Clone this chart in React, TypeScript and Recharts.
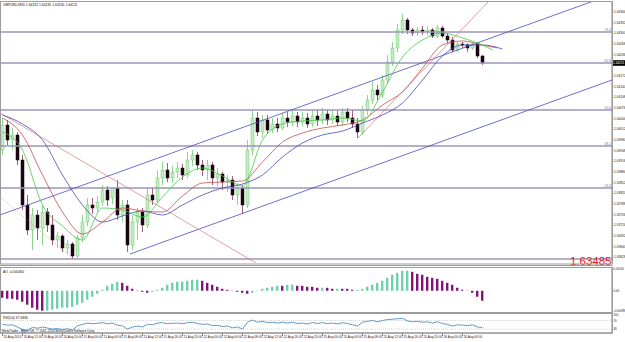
import {
  ComposedChart,
  Bar,
  Line,
  XAxis,
  YAxis,
  ReferenceLine,
  Cell,
} from "recharts";

const titleText = "GBPUSD,M30  1.64232 1.64235 1.64205 1.64211";
const aoTitle = "AO -0.000460";
const rsiTitle = "RSI(14) 37.4836";
const copyright = "MetaTrader - Alpari UK, © 2001-2014 MetaQuotes Software Corp.";
const markText = "1.63485";

const opens = [
  1.6395, 1.64025, 1.6398, 1.63995, 1.6392, 1.63785, 1.6371, 1.63755, 1.63716, 1.63764,
  1.63725, 1.6368, 1.63692, 1.63656, 1.63668, 1.63632, 1.63686, 1.63734, 1.63785, 1.63776,
  1.63794, 1.6383, 1.63806, 1.63836, 1.63755, 1.63785, 1.63665, 1.63734, 1.63764, 1.63725,
  1.63815, 1.638, 1.63866, 1.6389, 1.63866, 1.63884, 1.63896, 1.63875, 1.6392, 1.63935,
  1.63905, 1.6389, 1.63905, 1.63866, 1.63878, 1.63854, 1.6386, 1.63815, 1.63836, 1.63785,
  1.6395, 1.64046, 1.64004, 1.6404, 1.6401, 1.64028, 1.64016, 1.64046, 1.64034, 1.64052,
  1.64034, 1.64046, 1.64028, 1.64052, 1.6404, 1.64058, 1.6404, 1.64052, 1.64034, 1.64064,
  1.64046, 1.64028, 1.64004, 1.6407, 1.641, 1.6413, 1.64115, 1.6416, 1.64214, 1.64256,
  1.6431, 1.6434, 1.6431, 1.64301, 1.6431, 1.64304, 1.6431, 1.64292, 1.64316, 1.64292,
  1.6428, 1.6425, 1.64268, 1.64265, 1.64256, 1.64268, 1.64232,
];
const highs = [
  1.64046, 1.6404, 1.64016, 1.64004, 1.63935, 1.63815, 1.63776, 1.6377, 1.63785, 1.63776,
  1.63755, 1.63704, 1.63698, 1.6368, 1.63674, 1.63695, 1.63755, 1.63806, 1.63806, 1.63812,
  1.63845, 1.63842, 1.63824, 1.6386, 1.638, 1.638, 1.63755, 1.63776, 1.63776, 1.63836,
  1.63836, 1.6389, 1.63914, 1.63911, 1.63902, 1.63914, 1.63908, 1.63944, 1.6395, 1.63944,
  1.6392, 1.6392, 1.63914, 1.63896, 1.63884, 1.63875, 1.63872, 1.63851, 1.63845, 1.6398,
  1.6407, 1.64064, 1.64055, 1.64055, 1.64046, 1.64046, 1.64061, 1.64064, 1.6407, 1.64064,
  1.64064, 1.64061, 1.6407, 1.6407, 1.64076, 1.6407, 1.6407, 1.64067, 1.64076, 1.64076,
  1.6407, 1.64046, 1.64082, 1.64115, 1.64154, 1.64145, 1.64175, 1.64235, 1.64274, 1.64328,
  1.64358, 1.64346, 1.64316, 1.64319, 1.64322, 1.64322, 1.64316, 1.64325, 1.64322, 1.64301,
  1.64289, 1.64274, 1.64274, 1.64271, 1.64274, 1.64274, 1.64235,
];
const lows = [
  1.63935, 1.63965, 1.6395, 1.63905, 1.6377, 1.63695, 1.6365, 1.6368, 1.63665, 1.63704,
  1.63665, 1.63656, 1.63644, 1.63638, 1.63623, 1.63626, 1.63674, 1.63722, 1.63758, 1.63764,
  1.63782, 1.63782, 1.63788, 1.6374, 1.63734, 1.63644, 1.6365, 1.6368, 1.63704, 1.63716,
  1.63785, 1.63791, 1.63845, 1.63854, 1.63851, 1.63866, 1.6386, 1.63866, 1.63902, 1.6389,
  1.63872, 1.6386, 1.63845, 1.63842, 1.6383, 1.63824, 1.638, 1.63785, 1.63758, 1.63776,
  1.63935, 1.63992, 1.63986, 1.63998, 1.64001, 1.64004, 1.6401, 1.64019, 1.64022, 1.64019,
  1.64022, 1.64016, 1.64019, 1.64022, 1.64028, 1.64025, 1.64028, 1.64022, 1.64022, 1.64034,
  1.64016, 1.63986, 1.63995, 1.64055, 1.64088, 1.641, 1.64106, 1.64148, 1.64202, 1.64244,
  1.64298, 1.64298, 1.64292, 1.64292, 1.64295, 1.64295, 1.64286, 1.64286, 1.64286, 1.64271,
  1.64244, 1.64244, 1.64256, 1.64244, 1.6425, 1.64226, 1.64205,
];
const closes = [
  1.64025, 1.6398, 1.63995, 1.6392, 1.63785, 1.6371, 1.63755, 1.63716, 1.63764, 1.63725,
  1.6368, 1.63692, 1.63656, 1.63668, 1.63632, 1.63686, 1.63734, 1.63785, 1.63776, 1.63794,
  1.6383, 1.638, 1.63836, 1.63755, 1.63785, 1.63665, 1.63734, 1.63764, 1.63725, 1.63815,
  1.638, 1.63866, 1.6389, 1.63866, 1.63884, 1.63896, 1.63875, 1.6392, 1.63935, 1.63905,
  1.6389, 1.63905, 1.63866, 1.63878, 1.63854, 1.6386, 1.63815, 1.63836, 1.63785, 1.6395,
  1.64046, 1.64004, 1.6404, 1.6401, 1.64028, 1.64016, 1.64046, 1.64034, 1.64052, 1.64034,
  1.64046, 1.64028, 1.64052, 1.6404, 1.64058, 1.6404, 1.64052, 1.64034, 1.64064, 1.64046,
  1.64028, 1.64004, 1.6407, 1.641, 1.6413, 1.64115, 1.6416, 1.64214, 1.64256, 1.6431,
  1.6434, 1.6431, 1.64301, 1.6431, 1.64304, 1.6431, 1.64292, 1.64316, 1.64292, 1.6428,
  1.6425, 1.64268, 1.64265, 1.64256, 1.64268, 1.64232, 1.64211,
];

// alligator lines: [bar index, value]
const lipsPts: [number, number][] = [
  [0, 1.64004], [4, 1.6395], [8, 1.63785], [12, 1.63722], [16, 1.6368], [20, 1.63776],
  [24, 1.6377], [28, 1.63749], [32, 1.63809], [36, 1.63869], [40, 1.63896], [44, 1.63872],
  [48, 1.63842], [52, 1.6398], [56, 1.64028], [60, 1.64037], [64, 1.6404], [68, 1.64046],
  [72, 1.64037], [76, 1.64124], [80, 1.64229], [84, 1.6428], [88, 1.64301], [92, 1.64286],
  [96, 1.64265], [98, 1.6425],
];
const teethPts: [number, number][] = [
  [0, 1.64046], [4, 1.63995], [8, 1.63875], [12, 1.63764], [16, 1.63698], [20, 1.63734],
  [24, 1.63776], [28, 1.63767], [32, 1.63764], [36, 1.63812], [40, 1.63851], [44, 1.63854],
  [48, 1.63857], [52, 1.63914], [56, 1.63974], [60, 1.64001], [64, 1.64016], [68, 1.64025],
  [72, 1.6404], [76, 1.64085], [80, 1.64124], [84, 1.64196], [88, 1.64265], [92, 1.64277],
  [96, 1.64265], [99, 1.64256],
];
const jawPts: [number, number][] = [
  [0, 1.64055], [4, 1.64028], [8, 1.6398], [12, 1.63875], [16, 1.63785], [20, 1.63734],
  [24, 1.63752], [28, 1.63767], [32, 1.63755], [36, 1.63785], [40, 1.63815], [44, 1.63836],
  [48, 1.63848], [52, 1.63875], [56, 1.63929], [60, 1.63971], [64, 1.63995], [68, 1.64007],
  [72, 1.64031], [76, 1.64055], [80, 1.64091], [84, 1.6416], [88, 1.64232], [92, 1.64265],
  [96, 1.64265], [100, 1.64253],
];

const aoValues = [
  -0.000322, -0.000368, -0.000371, -0.000414, -0.000506, -0.000644, -0.000782, -0.000874, -0.00092, -0.000915,
  -0.000874, -0.000828, -0.000782, -0.000779, -0.000736, -0.000644, -0.000552, -0.000414, -0.000276, -0.000138,
  0.000046, 0.00023, 0.000322, 0.000414, 0.000368, 0.00023, 0.000092, 0.00001, -0.000046, -0.000092,
  -0.000046, 0.000046, 0.000138, 0.000276, 0.000368, 0.000414, 0.000418, 0.00046, 0.000506, 0.00051,
  0.00046, 0.000368, 0.000276, 0.000184, 0.000092, 0.000046, 0.00001, -0.000046, -0.000092, -0.000138,
  -0.000092, 0.000012, 0.000092, 0.000138, 0.000184, 0.00023, 0.000228, 0.000276, 0.00028, 0.00023,
  0.000226, 0.000184, 0.00018, 0.000138, 0.00014, 0.000136, 0.000092, 0.000095, 0.00009, 0.000088,
  0.000046, 0.000048, 0.000092, 0.000184, 0.000276, 0.000368, 0.00046, 0.000598, 0.000736, 0.000828,
  0.00092, 0.000925, 0.000874, 0.000782, 0.000736, 0.000644, 0.000598, 0.000552, 0.00046, 0.000368,
  0.000276, 0.000138, 0.000046, 0.00001, -0.000092, -0.000276, -0.00046,
];

const rsiValues = [
  52, 48, 50, 40, 28, 25, 38, 34, 40, 35, 30, 33, 28, 32, 26, 45, 52, 58, 55, 57,
  60, 55, 58, 48, 45, 30, 40, 44, 40, 52, 50, 58, 60, 55, 57, 58, 55, 60, 62, 56,
  52, 54, 46, 48, 42, 44, 36, 40, 30, 62, 72, 62, 66, 60, 62, 58, 62, 58, 62, 56,
  58, 54, 60, 56, 60, 55, 58, 54, 60, 56, 50, 44, 62, 66, 70, 64, 70, 74, 76, 78,
  80, 68, 64, 66, 62, 64, 58, 64, 56, 52, 44, 50, 48, 46, 50, 40, 37.4836,
];

// 1.64204 sits behind the current-price tag, as in the terminal
const priceTicks = [
  1.64364, 1.64332, 1.643, 1.64268, 1.64236, 1.64172, 1.6414, 1.64108, 1.64076,
  1.64044, 1.64012, 1.6398, 1.63948, 1.63916, 1.63884, 1.63852, 1.6382, 1.63788, 1.63756,
  1.63724, 1.63692, 1.6366, 1.63628,
];

const fibValues = [1.64304, 1.64211, 1.6407, 1.63962, 1.63836];
const fibNames = ["76.4", "61.8", "50.0", "38.2", "23.6"];
const baseLevel = 1.63623;

const timeLabels = [
  "20 Aug 2014", "20 Aug 12:00", "20 Aug 16:00", "20 Aug 20:00", "21 Aug 00:00", "21 Aug 04:00",
  "21 Aug 08:00", "21 Aug 12:00", "21 Aug 16:00", "21 Aug 20:00", "22 Aug 00:00", "22 Aug 04:00",
  "22 Aug 08:00", "22 Aug 12:00", "22 Aug 16:00", "22 Aug 20:00", "25 Aug 00:00", "25 Aug 04:00",
  "25 Aug 08:00", "25 Aug 12:00", "25 Aug 16:00", "25 Aug 20:00", "26 Aug 00:00", "26 Aug 04:00",
];

const aoTicks = [0.00105, 0, -0.00098];
const rsiTicks = [100, 70, 30];

// trend lines drawn on the chart, in bar index / price
const channelUpper = [{ x: -0.5, y: 1.63755 }, { x: 121.9, y: 1.64417 }];
const channelLower = [{ x: 25.5, y: 1.63638 }, { x: 121.9, y: 1.6416 }];
const redDown = [{ x: -0.5, y: 1.64061 }, { x: 50.7, y: 1.63611 }];
const redDotted = [{ x: -0.5, y: 1.63809 }, { x: 14, y: 1.63626 }];
const redUp = [{ x: 71.1, y: 1.63986 }, { x: 97.5, y: 1.644 }];

const rows: any[] = Array.from({ length: 101 }, (_, i) => {
  const r: any = { i };
  if (i < opens.length) {
    r.o = opens[i];
    r.h = highs[i];
    r.l = lows[i];
    r.c = closes[i];
    r.range = [lows[i], highs[i]];
    r.ao = aoValues[i];
    r.rsi = rsiValues[i];
  }
  return r;
});
lipsPts.forEach(([i, v]) => (rows[i].lips = v));
teethPts.forEach(([i, v]) => (rows[i].teeth = v));
jawPts.forEach(([i, v]) => (rows[i].jaw = v));

const X_DOMAIN: [number, number] = [-0.5, 121.9];
const FONT = 3.2;
const FRAME = "#9c9c9c";

function Candle(props: any) {
  const { x, y, width, height, payload } = props;
  if (payload == null || payload.o == null) return null;
  const { o, h, l, c } = payload;
  const top0 = Math.min(y, y + height);
  const hh = Math.abs(height);
  const span = h - l || 1e-9;
  const toY = (v: number) => top0 + ((h - v) / span) * hh;
  const up = c >= o;
  const bt = toY(Math.max(o, c));
  const bb = toY(Math.min(o, c));
  const cx = x + width / 2;
  return (
    <g>
      <line
        x1={cx}
        x2={cx}
        y1={top0}
        y2={top0 + hh}
        stroke={up ? "#74c874" : "#8a3a5c"}
        strokeWidth={0.8}
      />
      <rect
        x={x}
        y={bt}
        width={width}
        height={Math.max(bb - bt, 0.8)}
        fill={up ? "#c2ecc2" : "#1a0610"}
        stroke={up ? "#74c874" : "#1a0610"}
        strokeWidth={0.5}
      />
    </g>
  );
}

function PriceTag(props: any) {
  const { x, y, width } = props.viewBox;
  return (
    <g>
      <rect x={x + width + 0.5} y={y - 2.8} width={12.5} height={5.6} fill="#000" />
      <text x={x + width + 1} y={y + 1.2} fontSize={FONT} fill="#fff">
        {closes[closes.length - 1].toFixed(5)}
      </text>
    </g>
  );
}

function MarkText(props: any) {
  const { x, y, width } = props.viewBox;
  return (
    <text
      x={x + width - 0.5}
      y={y + 5.5}
      fontSize={11.5}
      fill="#e3171f"
      textAnchor="end"
    >
      {markText}
    </text>
  );
}

function TimeTick(props: any) {
  const { x, y, payload } = props;
  const label = timeLabels[Math.round(payload.value / 4)];
  return (
    <text x={x + 1} y={y} dy={2.4} fontSize={FONT} fill="#222" textAnchor="start">
      {label}
    </text>
  );
}

// keeps the edge labels of the small panels inside their own panel
function PanelTick(props: any) {
  const { x, y, payload, index, visibleTicksCount, fmt } = props;
  let dy = 1.1;
  if (index === 0) dy = 2.4;
  if (index === visibleTicksCount - 1 && payload.value < 0) dy = -0.2;
  return (
    <text x={x} y={y} dy={dy} fontSize={2.9} fill="#222" textAnchor="start">
      {fmt(payload.value)}
    </text>
  );
}

const aoFmt = (v: number) => (v === 0 ? "0.00" : v.toFixed(5));
const rsiFmt = (v: number) => String(v);

export default function App() {
  return (
    <div
      style={{
        position: "absolute",
        left: 0,
        top: 0,
        width: 625,
        height: 342,
        background: "#fff",
        fontFamily: "'Liberation Sans', Arial, sans-serif",
        overflow: "hidden",
      }}
    >
      <div style={{ position: "absolute", left: 0, top: 0 }}>
        <ComposedChart
          width={625}
          height={266}
          data={rows}
          margin={{ top: 2, right: 0, bottom: 3, left: 0 }}
        >
          <XAxis type="number" dataKey="i" domain={X_DOMAIN} hide allowDataOverflow />
          <YAxis
            orientation="right"
            type="number"
            domain={[1.63611, 1.64394]}
            ticks={priceTicks}
            interval={0}
            allowDataOverflow
            width={13}
            tickSize={1.5}
            tickMargin={0.5}
            tick={{ fontSize: FONT, fill: "#222" }}
            tickLine={{ stroke: "#808080" }}
            axisLine={{ stroke: "#808080" }}
            tickFormatter={(v: number) => v.toFixed(5)}
          />
          {fibValues.map((v, k) => (
            <ReferenceLine
              key={fibNames[k]}
              y={v}
              stroke="#9d95bb"
              strokeWidth={1.4}
              label={{
                value: fibNames[k],
                position: "insideBottomRight",
                offset: 1,
                fontSize: 3.4,
                fill: "#8078a8",
              }}
            />
          ))}
          <ReferenceLine y={baseLevel} stroke="#9d95bb" strokeWidth={1.4} label={MarkText} />
          <ReferenceLine segment={channelUpper} stroke="#4a4ac4" strokeWidth={0.8} ifOverflow="hidden" />
          <ReferenceLine segment={channelLower} stroke="#4a4ac4" strokeWidth={0.8} ifOverflow="hidden" />
          <ReferenceLine segment={redDown} stroke="#d07a7a" strokeWidth={0.7} ifOverflow="hidden" />
          <ReferenceLine
            segment={redDotted}
            stroke="#d07a7a"
            strokeWidth={0.7}
            strokeDasharray="1 1.5"
            ifOverflow="hidden"
          />
          <ReferenceLine segment={redUp} stroke="#d07a7a" strokeWidth={0.7} ifOverflow="hidden" />
          <Line
            dataKey="jaw"
            type="monotone"
            stroke="#4646bc"
            strokeWidth={0.8}
            dot={false}
            connectNulls
            isAnimationActive={false}
          />
          <Line
            dataKey="teeth"
            type="monotone"
            stroke="#cc4a4a"
            strokeWidth={0.8}
            dot={false}
            connectNulls
            isAnimationActive={false}
          />
          <Line
            dataKey="lips"
            type="monotone"
            stroke="#46c846"
            strokeWidth={0.8}
            dot={false}
            connectNulls
            isAnimationActive={false}
          />
          <Bar dataKey="range" barSize={3} shape={Candle} isAnimationActive={false} />
          <ReferenceLine
            y={closes[closes.length - 1]}
            stroke="none"
            label={PriceTag}
          />
        </ComposedChart>
      </div>

      <div style={{ position: "absolute", left: 0, top: 267 }}>
        <ComposedChart
          width={625}
          height={46}
          data={rows}
          margin={{ top: 1, right: 0, bottom: 1, left: 0 }}
        >
          <XAxis type="number" dataKey="i" domain={X_DOMAIN} hide allowDataOverflow />
          <YAxis
            orientation="right"
            type="number"
            domain={[-0.00098, 0.00105]}
            ticks={aoTicks}
            interval={0}
            allowDataOverflow
            width={13}
            tickSize={1.2}
            tickMargin={0.3}
            tick={<PanelTick fmt={aoFmt} />}
            tickLine={{ stroke: "#808080" }}
            axisLine={{ stroke: "#808080" }}
          />
          <Bar dataKey="ao" barSize={2.4} isAnimationActive={false}>
            {rows.map((r, k) => (
              <Cell
                key={k}
                fill={k > 0 && r.ao > rows[k - 1].ao ? "#6fd0ae" : "#82127f"}
              />
            ))}
          </Bar>
        </ComposedChart>
      </div>

      <div style={{ position: "absolute", left: 0, top: 313 }}>
        <ComposedChart
          width={625}
          height={29}
          data={rows}
          margin={{ top: 1, right: 0, bottom: 0, left: 0 }}
        >
          <XAxis
            type="number"
            dataKey="i"
            domain={X_DOMAIN}
            allowDataOverflow
            ticks={timeLabels.map((_, k) => k * 4)}
            interval={0}
            height={9}
            tickSize={3}
            tickMargin={0}
            tick={TimeTick}
            tickLine={{ stroke: "#808080" }}
            axisLine={{ stroke: "#808080" }}
          />
          <YAxis
            orientation="right"
            type="number"
            domain={[12, 100]}
            ticks={rsiTicks}
            interval={0}
            allowDataOverflow
            width={13}
            tickSize={1.2}
            tickMargin={0.3}
            tick={<PanelTick fmt={rsiFmt} />}
            tickLine={{ stroke: "#808080" }}
            axisLine={{ stroke: "#808080" }}
          />
          <ReferenceLine y={70} stroke="#b8b8b8" strokeDasharray="1 1" strokeWidth={0.6} />
          <ReferenceLine y={30} stroke="#b8b8b8" strokeDasharray="1 1" strokeWidth={0.6} />
          <Line
            dataKey="rsi"
            type="linear"
            stroke="#4f8fc6"
            strokeWidth={0.9}
            dot={false}
            isAnimationActive={false}
          />
        </ComposedChart>
      </div>

      <svg
        width={625}
        height={342}
        style={{ position: "absolute", left: 0, top: 0, pointerEvents: "none" }}
      >
        <rect x={0.5} y={1.5} width={612} height={262.5} fill="none" stroke={FRAME} />
        <line x1={0} x2={612.5} y1={265.5} y2={265.5} stroke={FRAME} />
        <rect x={0.5} y={267.5} width={612} height={45} fill="none" stroke={FRAME} />
        <rect x={0.5} y={313.5} width={612} height={19.5} fill="none" stroke={FRAME} />
        <text x={3} y={5.8} fontSize={3.4} fill="#111">
          {titleText}
        </text>
        <text x={3} y={272.5} fontSize={3.4} fill="#111">
          {aoTitle}
        </text>
        <text x={3} y={318.5} fontSize={3.4} fill="#111">
          {rsiTitle}
        </text>
        <text x={2} y={331.8} fontSize={3.2} fill="#111">
          {copyright}
        </text>
      </svg>
    </div>
  );
}
